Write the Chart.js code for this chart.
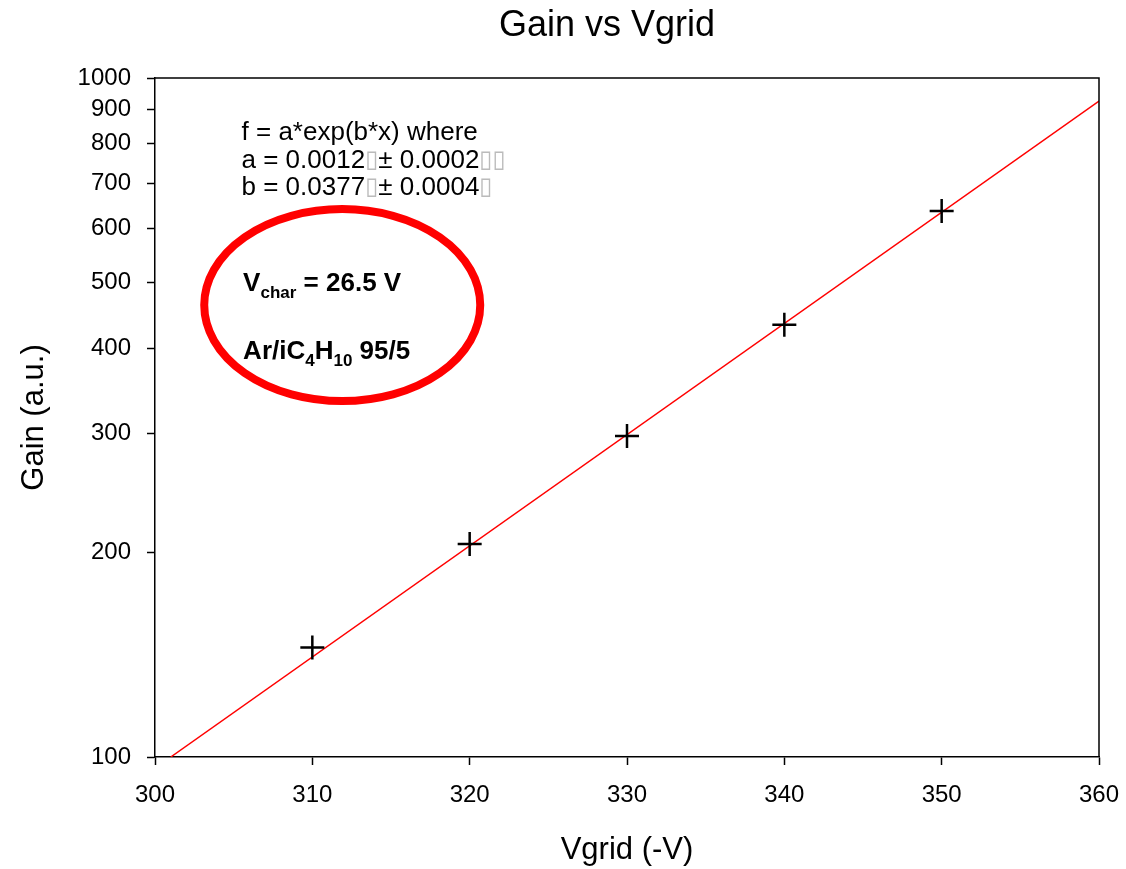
<!DOCTYPE html>
<html>
<head>
<meta charset="utf-8">
<script src="https://cdn.jsdelivr.net/npm/chart.js@4/dist/chart.umd.min.js"></script>
<style>
  html, body { margin: 0; padding: 0; background: #fff; }
  #wrap { width: 1126px; height: 869px; }
</style>
</head>
<body>
<div id="wrap"><canvas id="myChart" width="1126" height="869"></canvas></div>
<script>
"use strict";
// measured points
const vgrid = [310, 320, 330, 340, 350];
const gain = [145, 206, 297, 433, 637];
// fitted curve end points
const fitX = [301, 360];
const fitY = [100, 925];
// axis ticks
const xTicks = [300, 310, 320, 330, 340, 350, 360];
const yTicks = [100, 200, 300, 400, 500, 600, 700, 800, 900, 1000];

const fontName = "'Liberation Sans', Arial, sans-serif";
const titulo = "Gain vs Vgrid";

let puntos = vgrid.map((v, i) => ({ x: v, y: gain[i] }));
let ajuste = fitX.map((v, i) => ({ x: v, y: fitY[i] }));

// title, frame on top/right + text box with the ellipse
const anotaciones = {
  id: "anotaciones",
  afterDraw(chart) {
    const ctx = chart.ctx;
    const a = chart.chartArea;
    const sx = chart.scales.x;
    const sy = chart.scales.y;
    ctx.save();

    ctx.fillStyle = "#000";
    ctx.font = "36px " + fontName;
    ctx.textAlign = "center";
    ctx.textBaseline = "middle";
    ctx.fillText(titulo, 607, 26);

    ctx.strokeStyle = "#000";
    ctx.lineWidth = 1.5;
    ctx.beginPath();
    ctx.moveTo(a.left, a.top);
    ctx.lineTo(a.right, a.top);
    ctx.lineTo(a.right, a.bottom);
    ctx.stroke();

    // fit parameters
    ctx.textAlign = "left";
    const x0 = sx.getPixelForValue(305.5);
    const caja = "\u25AF";
    const lineas = [
      [["f = a*exp(b*x) where", "#000"]],
      [["a = 0.0012", "#000"], [caja, "#bbb"], ["\u00B1 0.0002", "#000"], [caja + caja, "#bbb"]],
      [["b = 0.0377", "#000"], [caja, "#bbb"], ["\u00B1 0.0004", "#000"], [caja, "#bbb"]]
    ];
    const ys = [830, 755, 689];
    lineas.forEach((partes, i) => {
      let x = x0;
      const y = sy.getPixelForValue(ys[i]);
      for (const [t, c] of partes) {
        ctx.font = (c === "#000" ? "26px " + fontName : "24px 'DejaVu Sans'");
        ctx.fillStyle = c;
        ctx.fillText(t, x, y);
        x += ctx.measureText(t).width;
      }
    });

    // red ellipse
    const cx = sx.getPixelForValue(311.9);
    const cy = sy.getPixelForValue(463);
    ctx.strokeStyle = "#ff0000";
    ctx.lineWidth = 8;
    ctx.beginPath();
    ctx.ellipse(cx, cy, 138, 96, 0, 0, Math.PI * 2);
    ctx.stroke();

    // bold labels inside ellipse
    ctx.fillStyle = "#000";
    const xb = sx.getPixelForValue(305.6);
    const partes1 = [["V", 26, 0], ["char", 17, 9], [" = 26.5 V", 26, 0]];
    const partes2 = [["Ar/iC", 26, 0], ["4", 17, 9], ["H", 26, 0], ["10", 17, 9], [" 95/5", 26, 0]];
    const filas = [[partes1, 497], [partes2, 395]];
    for (const [partes, val] of filas) {
      let x = xb;
      const y = sy.getPixelForValue(val);
      for (const [t, s, dy] of partes) {
        ctx.font = "bold " + s + "px " + fontName;
        ctx.fillText(t, x, y + dy);
        x += ctx.measureText(t).width;
      }
    }
    ctx.restore();
  }
};

const config = {
  type: "scatter",
  data: {
    datasets: [
      {
        label: "ajuste",
        data: ajuste,
        showLine: true,
        borderColor: "#ff0000",
        borderWidth: 1.5,
        pointRadius: 0,
        fill: false,
        order: 2
      },
      {
        label: "Gain",
        data: puntos,
        pointStyle: "cross",
        pointRadius: 12,
        pointHoverRadius: 12,
        borderColor: "#000",
        backgroundColor: "#000",
        pointBorderWidth: 2.5,
        showLine: false,
        order: 1
      }
    ]
  },
  options: {
    responsive: false,
    animation: false,
    layout: { padding: { left: 0, right: 27, top: 78, bottom: 0 } },
    scales: {
      x: {
        type: "linear",
        min: 300,
        max: 360,
        afterBuildTicks: (s) => { s.ticks = xTicks.map(v => ({ value: v })); },
        afterFit: (s) => { s.height = 112; s.paddingRight = 0; s.paddingLeft = 0; },
        ticks: {
          color: "#000",
          font: { family: fontName, size: 24 },
          padding: 16,
          callback: (v) => String(v)
        },
        grid: { display: true, drawOnChartArea: false, drawTicks: true, tickLength: 8, color: "#000", tickWidth: 1.5 },
        border: { display: true, color: "#000", width: 1.5 },
        title: {
          display: true,
          text: "Vgrid (-V)",
          color: "#000",
          font: { family: fontName, size: 31 },
          padding: { top: 0, bottom: 0 }
        }
      },
      y: {
        type: "logarithmic",
        min: 100,
        max: 1000,
        afterBuildTicks: (s) => { s.ticks = yTicks.map(v => ({ value: v })); },
        afterFit: (s) => { s.width = 155; s.paddingTop = 0; s.paddingBottom = 0; },
        ticks: {
          color: "#000",
          font: { family: fontName, size: 24 },
          padding: 16,
          autoSkip: false,
          callback: (v) => String(v)
        },
        grid: { display: true, drawOnChartArea: false, drawTicks: true, tickLength: 8, color: "#000", tickWidth: 1.5 },
        border: { display: true, color: "#000", width: 1.5 },
        title: {
          display: true,
          text: "Gain (a.u.)",
          color: "#000",
          font: { family: fontName, size: 31 },
          padding: { top: 16, bottom: 0 }
        }
      }
    },
    plugins: {
      legend: { display: false },
      tooltip: { enabled: false },
      title: { display: false }
    }
  },
  plugins: [anotaciones]
};

let myChart = new Chart(document.getElementById("myChart"), config);
</script>
</body>
</html>
